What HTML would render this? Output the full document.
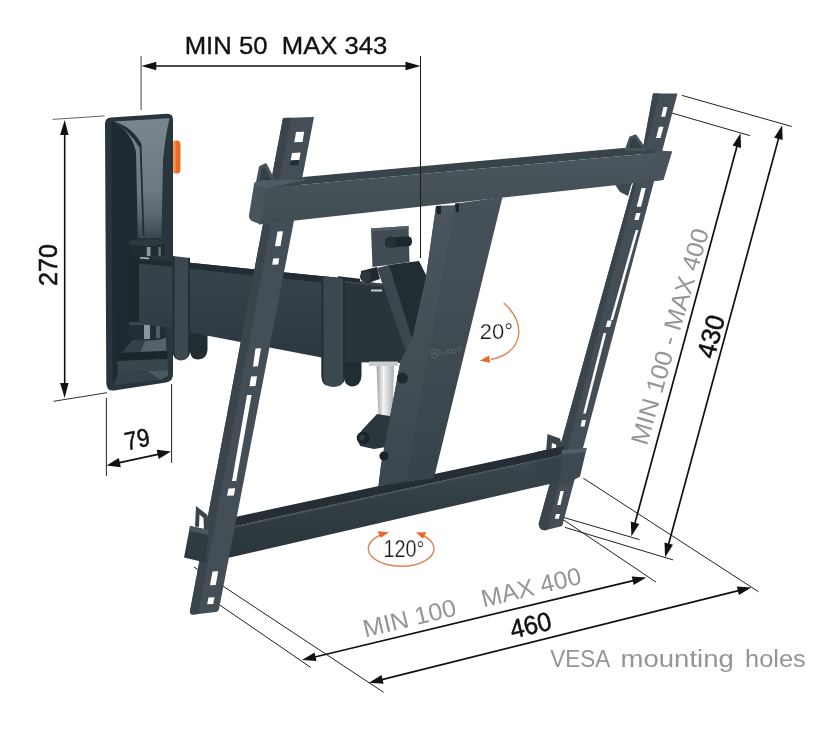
<!DOCTYPE html>
<html><head><meta charset="utf-8">
<style>
html,body{margin:0;padding:0;background:#fff;}
body{width:822px;height:730px;overflow:hidden;font-family:"Liberation Sans",sans-serif;}
svg{display:block;will-change:transform;}
text{font-family:"Liberation Sans",sans-serif;}
</style></head><body>
<svg width="822" height="730" viewBox="0 0 822 730">
<defs>
<linearGradient id="silver" x1="0" y1="0" x2="1" y2="0">
<stop offset="0" stop-color="#9da1a4"/><stop offset="0.4" stop-color="#f4f5f5"/><stop offset="1" stop-color="#a9adb0"/>
</linearGradient>
<linearGradient id="armg" x1="0" y1="0" x2="0" y2="1">
<stop offset="0" stop-color="#38444c"/><stop offset="0.5" stop-color="#333f47"/><stop offset="1" stop-color="#2b363d"/>
</linearGradient>
<linearGradient id="wallgloss" x1="0" y1="0" x2="0" y2="1">
<stop offset="0" stop-color="#7a868f"/><stop offset="0.6" stop-color="#6d7982"/><stop offset="0.8" stop-color="#5c6871"/><stop offset="1" stop-color="#3a464d"/>
</linearGradient>
<linearGradient id="barg1" x1="0" y1="0" x2="0" y2="1">
<stop offset="0" stop-color="#4b565e"/><stop offset="1" stop-color="#404b52"/>
</linearGradient>
<linearGradient id="barg2" x1="0" y1="0" x2="0" y2="1">
<stop offset="0" stop-color="#3d4950"/><stop offset="0.4" stop-color="#333f45"/><stop offset="1" stop-color="#2a353b"/>
</linearGradient>
<linearGradient id="plateg" x1="0" y1="0" x2="0" y2="1">
<stop offset="0" stop-color="#475159"/><stop offset="1" stop-color="#37434a"/>
</linearGradient>
<linearGradient id="plates" x1="0" y1="0" x2="0" y2="1">
<stop offset="0" stop-color="#4b555d"/><stop offset="1" stop-color="#3b474e"/>
</linearGradient>
</defs>
<rect width="822" height="730" fill="#fff"/>
<g id="ext" stroke="#222" stroke-width="1" fill="none">
<line x1="141.1" y1="56" x2="141.1" y2="110" stroke="#444"/>
<line x1="52.8" y1="119.4" x2="104.5" y2="115.9" stroke="#666"/>
<line x1="53.6" y1="401.3" x2="107" y2="392.7" stroke="#333"/>
<line x1="106.4" y1="398" x2="106.4" y2="476"/>
<line x1="171.6" y1="384" x2="171.6" y2="463"/>
<line x1="194" y1="567" x2="383.6" y2="692.3"/>
<line x1="219" y1="604.5" x2="310.7" y2="667.4"/>
<line x1="557" y1="515.5" x2="656" y2="582.1"/>
<line x1="583.3" y1="478.2" x2="758.6" y2="591.8"/>
<line x1="557" y1="515.5" x2="639.5" y2="539.6"/>
<line x1="565" y1="527.4" x2="673" y2="559.9"/>
<line x1="682" y1="95.4" x2="791.8" y2="126.5"/>
<line x1="670" y1="112.5" x2="749.9" y2="135.6"/>
</g>

<g id="wall">
<path d="M111,117.6 L167,113.8 Q173,113.5 173,120 L173,374 Q173,381.5 166,382.5 L114,390.5 Q106.5,391.5 106.3,383 L105,124 Q105,118 111,117.6 Z" fill="#28353c"/>
<path d="M111.5,124 Q111.5,121.5 114,121.6 Q134,128 137,150 L137.8,238 L143,238 L143,340 L118,378 L112.5,383 Z" fill="#1d2a31"/>
<path d="M114,121.6 L169.5,118.2 Q165.5,135 163,160 L161.4,238 L137.8,238 L136,152 Q132,133 114,121.6 Z" fill="url(#wallgloss)"/>
<path d="M114,121.6 Q132,127 141.5,144 L139.5,147.5 Q129,131 114,121.6 Z" fill="#222f36"/>
<path d="M139.6,144 L141.4,144 L144.4,236 L142.8,236 Z" fill="#1f2c33"/>
<!-- lower gloss -->
<path d="M133,340 L166,338 L166.5,352 L122,353 Z" fill="#56626a"/>
<path d="M133,340 L146,339.3 L140,352.6 L122,353 Z" fill="#34414a"/>
<path d="M117,353 L166.5,350.8 L167.5,359 L117.5,361 Z" fill="#1b262c"/>
<path d="M117.5,361 L167.5,359 L167.8,370 L118,372.8 Z" fill="#3a464d"/>
<path d="M118,372.8 L167.8,370 L168.2,375.5 L163,379.5 L114.5,385 Z" fill="#36424a"/>
<path d="M148,371.2 L167.8,370 L168.2,375.5 L160,379.8 Z" fill="#4c5860"/>
<!-- orange -->
<path d="M173,141 L177,140.5 Q180.5,140.5 180.5,145 L180.5,169 Q180.5,173.5 177,173.5 L173,173 Z" fill="#ee6a26"/>
<path d="M173,141 L175.5,140.7 L175.5,173.3 L173,173 Z" fill="#f59558"/>
</g>

<g id="hinge">
<rect x="128.5" y="250" width="13" height="80" fill="#1c272e"/>
<path d="M128.5,243 Q128.5,238.5 146,238.5 Q164.5,238.5 164.5,243 L164.5,256 L128.5,256 Z" fill="#212b32"/>
<ellipse cx="146.5" cy="242.5" rx="18" ry="3.6" fill="#2d383f"/>
<rect x="146.8" y="247" width="3.7" height="9" fill="#8c979e"/>
<rect x="158.4" y="247" width="2.4" height="9" fill="#66727a"/>
<path d="M129,322 L165,322 L165,336 Q165,340.5 147,340.5 Q129,340.5 129,336 Z" fill="#222e35"/>
<rect x="144" y="323" width="6" height="16" fill="#8a959c"/>
<rect x="156" y="323" width="4" height="15" fill="#525e66"/>
<path d="M129,322 L165,322 L165,325 L129,325 Z" fill="#3a464d"/>
</g>

<g id="arm">
<!-- hooks behind -->
<path d="M190,330 L207.5,333 L207.5,350 Q207,359 198,359.5 Q191,359.5 190,352 Z" fill="#222d33"/>
<path d="M344,358 L361.5,360 L361.5,376 Q361,386 352,386.5 Q345,386 344,378 Z" fill="#222d33"/>
<!-- arm body -->
<path d="M139,257.5 L345,278.5 L345,362 L139,322.5 Z" fill="url(#armg)"/>
<path d="M139,257.5 L345,278.5 L345,285 L139,263.5 Z" fill="#222c33"/>
<path d="M140,256.9 L149,257.8 L149,259.3 L140,258.4 Z" fill="#b5bcc0"/>
<!-- end block -->
<path d="M343,279.5 L386,284 L409,348 L404,363 L343,362 Z" fill="#29343b"/>
<path d="M345,280 L381,283.5 L382,286.5 L345,283 Z" fill="#3a454c"/>
<path d="M338,276.3 L360,278.8 L360,282.5 L338,280 Z" fill="#1f292f"/>
<!-- strap 1 -->
<path d="M172.5,256 L190,258 L190,350 Q189.5,360.5 181,360.5 Q173,360 172.5,350 Z" fill="#3c4850"/>
<path d="M172.5,256 L174.5,256.2 L174.5,352 Q174.7,357 178,359.6 Q172.8,358 172.5,350 Z" fill="#222d34"/>
<path d="M188,257.8 L190,258 L190,350 Q189.8,355 188,357 Z" fill="#222d34"/>
<!-- strap 2 -->
<path d="M321.5,276 L345,278.5 L345,376 Q344.5,387 333,387 Q322,386.5 321.5,376 Z" fill="#3c4850"/>
<path d="M321.5,276 L323.5,276.2 L323.5,378 Q323.8,383 327,386 Q321.8,384 321.5,376 Z" fill="#222d34"/>
<path d="M343,278.3 L345,278.5 L345,376 Q344.8,381 343,383 Z" fill="#222d34"/>
</g>

<g id="tilt">
<!-- silver rod -->
<path d="M376.5,364 L394,364 L392.5,419.5 L378.5,419.5 Z" fill="url(#silver)"/>
<path d="M369,361.5 L398,361.5 L398,366 L369,366 Z" fill="#c9cdd0"/>
<!-- lower lever -->
<path d="M377,414 L396,417 L392,446 L374,449 L360,446 L357,437 L362,430 Z" fill="#2b363d"/>
<circle cx="363" cy="438" r="6.3" fill="#19232a"/>
<circle cx="362" cy="437.5" r="3" fill="#2f3a41"/>
<!-- back plate w knob -->
<path d="M371,228.5 L408.5,226 L409.5,262 L372.5,267 Z" fill="#404b53"/>
<path d="M371,228.5 L408.5,226 L408.6,229 L371.2,231.5 Z" fill="#525e66"/>
<path d="M386,238 L408,236.5 Q412,236.5 412,241.5 Q412,246 408,246.3 L390,247.5 Q385,247.5 385,242.5 Z" fill="#1c262c"/>
<circle cx="391" cy="242" r="5.5" fill="#263138"/>
<!-- pivot bolt -->
<path d="M361,271 Q360,281 368,283 L380,279 L377,267 Z" fill="#1f2930"/>
<circle cx="365.5" cy="276.5" r="5.5" fill="#2c373e"/>
<rect x="371" y="289.5" width="11" height="2" fill="#c8cdd0"/>
<!-- V interior -->
<path d="M388,265 L419,261 L427,277 L412,342 Z" fill="#222c33"/>
<!-- left arm of V -->
<path d="M377,268 L389,265 L412.5,340 L405.5,351 Z" fill="#3b464e"/>
</g>

<g id="bottombar">
<path d="M228,518.5 L562,446.5 L562,454.7 L226,528.2 Z" fill="#242e34"/>
<path d="M226,528.2 L562,454.7 L562,481 L220,559.8 Z" fill="url(#barg2)"/>
<path d="M226,528.2 L562,454.7 L562,456.2 L226,529.8 Z" fill="#46525a"/>
</g>

<g id="center">
<path d="M436,206 L455,205.5 L455,203.7 L502.5,197 L434,478 L378.5,486 L381,465 L400.5,361 L412,340 L426,277 Z" fill="url(#plateg)"/>
<path d="M436,206 L455,205.5 L406,480 L378.5,486 L381,465 L400.5,361 L412,340 L426,277 Z" fill="url(#plates)"/>
<circle cx="384" cy="456" r="4.6" fill="#19232a"/>
<circle cx="402.5" cy="378" r="5.5" fill="#1f2930"/>
<path d="M455,203.7 L459,203.2 L459,212 L456,212.3 Z" fill="#1a242a"/>
<path d="M436,206 L441,205.8 L441,214 L437,214.2 Z" fill="#1a242a"/>
<g transform="translate(431,357) rotate(-13)" stroke="#5a666e" stroke-width="0.9" fill="none"><circle cx="3" cy="-5" r="2.6"/><circle cx="7.5" cy="-3" r="2.6"/><circle cx="3.5" cy="-0.5" r="2.6"/><path d="M12,-2 l3,3 l2.5,-4 m2,0 a2,2 0 1 0 0.1,0 m4,0.5 a2,2 0 1 0 0.1,0 m4,-0.5 l0,4 m3,-6 l0,6" /></g>
</g>

<g id="rails">
<!-- LEFT RAIL -->
<path d="M283,118 L314,117 L219,609 Q218.6,611.5 216,612 L194,614.5 Q189.5,614.8 190,611 Z" fill="#434e56"/>
<path d="M283,118 L291,117.7 L198,614 L194,614.5 Q189.5,614.8 190,611 Z" fill="#39444b"/>
<g fill="#fff">
<path d="M296,132 L304.2,131.7 L302.5,142 L294.3,142.3 Z"/>
<path d="M292,153 L300.6,152.6 L299.3,160 L290.7,160.4 Z"/>
<path d="M277.5,231.5 L283,231.3 L280.5,246 L275,246.2 Z"/>
<path d="M273.2,258.4 L279.2,258.2 L278.2,264.6 L272.2,264.8 Z"/>
<path d="M255.5,348.5 L261,348.3 L258,366.3 L253,366.5 Z"/>
<path d="M251,376.5 L257,376.3 L255.5,386 L249.5,386.2 Z"/>
<path d="M247,395 L251.6,395 L236.2,481 L232,481 Z"/>
<path d="M228.5,488.5 L235.2,488.3 L233.8,495.5 L227,495.7 Z"/>
<path d="M212.5,571.5 L218.2,571.2 L215.8,585 L210,585.3 Z"/>
<path d="M208.5,597.5 L214.5,597.2 L213.2,604 L207.2,604.3 Z"/>
</g>
<path d="M290.7,160.4 L299.3,160 L298.5,165 L289.8,165.4 Z" fill="#222c32"/>
<!-- left bottom clamp -->
<path d="M196,506 L207.5,515 L209,530 L204,531 L203.5,518 L199.5,514.5 L199,527 L195,526.5 Z" fill="#39444b"/>
<path d="M190,526 L209,530 L205,562.5 L184,557.5 Z" fill="#2f3a41"/>
<path d="M190,526 L209,530 L208.3,535 L189.2,531 Z" fill="#4a555d"/>
<!-- RIGHT RAIL -->
<path d="M653,93.5 L677.5,93.5 L562.2,526 L545.5,530.2 Q541,530.5 539.5,527 L538.6,524 L600.7,300 L643,148 Z" fill="#434e56"/>
<path d="M653,93.5 L659.5,93.5 L547,529.8 L545.5,530.2 Q541,530.5 539.5,527 L538.6,524 L600.7,300 L643,148 Z" fill="#39444b"/>
<g fill="#fff">
<path d="M663.5,107 L667.5,107 L665.2,116.7 L661.2,116.7 Z"/>
<path d="M659,126.7 L663.5,126.7 L660.5,138 L656,138 Z"/>
<path d="M641.5,188 L645.8,188 L641,206.7 L636.7,206.7 Z"/>
<path d="M636.2,213 L640.5,213 L638.7,220 L634.4,220 Z"/>
<path d="M635.7,230 L638.3,230 L613,320 L610.4,320 Z"/>
<path d="M607.5,320.5 L611.8,320.5 L610,327 L605.7,327 Z"/>
<path d="M603.6,333 L606.2,333 L585.8,413.5 L583.2,413.5 Z"/>
<path d="M582,420 L586,420 L584.5,426.5 L580.5,426.5 Z"/>
<path d="M560.5,491 L563.8,491 L560.5,505 L557.2,505 Z"/>
<path d="M556,514 L560,514 L558.8,518.8 L554.8,518.8 Z"/>
</g>
<path d="M615,184.5 L632,183 L628,196 L620,192 Z" fill="#3d4850"/>
<path d="M547.5,434 L560,438.5 L563,449 L556.5,450.5 L556,444.5 L552,443 L551,456 L545.5,457.5 Z" fill="#3a454c"/>
<!-- bar end passes in front of right rail side -->
<path d="M535,452.3 L563.5,446.2 L563.5,454.4 L535,460.6 Z" fill="#242e34"/>
<path d="M535,460.6 L563.5,454.4 L563.5,480.6 L535,487.2 Z" fill="#36424a"/>
<path d="M535,460.6 L563.5,454.4 L563.5,455.9 L535,462.1 Z" fill="#46525a"/>
<!-- right bottom clamp -->
<path d="M561.7,450 L586.7,448 L580,476.7 L560,486.7 Z" fill="#3d4850"/>
<path d="M561.7,450 L586.7,448 L585.5,452.5 L561.5,454.5 Z" fill="#525d65"/>
</g>

<g id="topbar">
<path d="M303,177 L623,148 L672,151.5 L266,188 Z" fill="#38434a"/>
<path d="M265,188 L672,151.5 L663,180 L259,224.5 Z" fill="url(#barg1)"/>
<!-- left hook (thin bracket) -->
<path d="M257.5,182.5 L260.5,167.5 L265.5,165 L274,181.5 Z" fill="#343f46" stroke="#465159" stroke-width="3.2" stroke-linejoin="round"/>
<circle cx="267.5" cy="181.5" r="2.4" fill="#19232a"/>
<!-- left cap: top + front -->
<path d="M254.3,182.5 L262,180 L302,179.5 L303,177 L306,180 L266,188.5 Z" fill="#4f5a62"/>
<path d="M254.3,182.5 L266,188 L260.5,224.5 L252,221 Q248.5,219 249,215 Z" fill="#49545c"/>
<!-- right hook -->
<path d="M626.5,149.5 L630.5,138 L635.5,136 L645,149.5 Z" fill="#343f46" stroke="#465159" stroke-width="3" stroke-linejoin="round"/>
<!-- right cap -->
<path d="M655,150.3 L672,151.5 L663.5,180 L654,181 Z" fill="#49545c"/>
</g>

<g id="arrows" stroke="#111" stroke-width="1.6" fill="#111">
<line x1="153.3" y1="66.0" x2="408.5" y2="66.0" stroke-width="1.6"/><path d="M141.3,66.0 L156.3,70.2 L156.3,61.8 Z" stroke="none"/><path d="M420.5,66.0 L405.5,70.2 L405.5,61.8 Z" stroke="none"/>
<line x1="64.7" y1="132.0" x2="64.7" y2="386.0" stroke-width="1.6"/><path d="M64.7,120.0 L60.1,135.0 L68.5,135.0 Z" stroke="none"/><path d="M64.7,398.0 L60.1,383.0 L68.5,383.0 Z" stroke="none"/>
<line x1="117.2" y1="463.2" x2="160.3" y2="453.8" stroke-width="1.7"/><path d="M106.6,465.5 L120.8,467.2 L118.8,458.0 Z" stroke="none"/><path d="M170.9,451.5 L158.7,459.0 L156.7,449.8 Z" stroke="none"/>
<line x1="312.8" y1="657.5" x2="635.4" y2="580.2" stroke-width="1.7"/><path d="M301.9,660.1 L316.5,661.1 L314.5,652.6 Z" stroke="none"/><path d="M646.3,577.6 L633.7,585.1 L631.7,576.6 Z" stroke="none"/>
<line x1="379.9" y1="680.1" x2="740.5" y2="590.1" stroke-width="1.7"/><path d="M369.0,682.8 L383.6,683.7 L381.5,675.1 Z" stroke="none"/><path d="M751.4,587.4 L738.9,595.1 L736.8,586.5 Z" stroke="none"/>
<line x1="737.6" y1="144.0" x2="634.3" y2="525.4" stroke-width="1.7"/><path d="M740.5,133.2 L732.6,145.6 L741.1,147.9 Z" stroke="none"/><path d="M631.4,536.2 L630.8,521.6 L639.3,523.9 Z" stroke="none"/>
<line x1="779.2" y1="136.1" x2="668.0" y2="546.4" stroke-width="1.7"/><path d="M782.1,125.3 L774.2,137.7 L782.7,140.0 Z" stroke="none"/><path d="M665.1,557.2 L664.5,542.5 L673.0,544.8 Z" stroke="none"/>
<line x1="420.5" y1="56" x2="420.5" y2="258" stroke="#1a1a1a" stroke-width="1"/>
</g>

<g id="labels">
<g fill="#111" stroke="#111" stroke-width="0.35">
<text x="184.7" y="54" font-size="24.7" textLength="202.7" lengthAdjust="spacingAndGlyphs" xml:space="preserve">MIN 50  MAX 343</text>
<text transform="translate(57,265) rotate(-90)" text-anchor="middle" font-size="26.3" textLength="42" lengthAdjust="spacingAndGlyphs" stroke-width="0.6">270</text>
<text transform="translate(139,447.8) rotate(-12)" text-anchor="middle" font-size="25.5" textLength="25" lengthAdjust="spacingAndGlyphs" stroke-width="0.5">79</text>
<text transform="translate(532.75,634) rotate(-13.5)" text-anchor="middle" font-size="26.3" textLength="41.6" lengthAdjust="spacingAndGlyphs" stroke-width="0.5">460</text>
<text transform="translate(719.7,338.8) rotate(-74.8)" text-anchor="middle" font-size="26.3" textLength="43.5" lengthAdjust="spacingAndGlyphs" stroke-width="0.5">430</text>
</g>
<g fill="#1c1c1c" stroke="#fff" stroke-width="0.25">
<text x="479.7" y="339.3" font-size="22.2" textLength="33.3" lengthAdjust="spacingAndGlyphs">20°</text>
<text x="383.5" y="557.2" font-size="23.7" textLength="41" lengthAdjust="spacingAndGlyphs">120°</text>
</g>
<g fill="#939597" stroke="none">
<text transform="translate(365.3,637.4) rotate(-13.46)" font-size="24.6" textLength="94.9" lengthAdjust="spacingAndGlyphs">MIN 100</text>
<text transform="translate(483.4,607.4) rotate(-13.46)" font-size="24.6" textLength="102" lengthAdjust="spacingAndGlyphs">MAX 400</text>
<text transform="translate(646.7,446.2) rotate(-73.8)" font-size="24.5" textLength="223.6" lengthAdjust="spacingAndGlyphs">MIN 100 - MAX 400</text>
<text x="550.3" y="666.8" font-size="24.2" textLength="60" lengthAdjust="spacingAndGlyphs">VESA</text>
<text x="620.6" y="666.8" font-size="24.2" textLength="113.2" lengthAdjust="spacingAndGlyphs">mounting</text>
<text x="745.1" y="666.8" font-size="24.2" textLength="60.7" lengthAdjust="spacingAndGlyphs">holes</text>
</g>
<g fill="none" stroke="#dc8654" stroke-width="1.4">
<path d="M503.8,303 Q519.5,317 518.8,333 Q517,354 491,359.5"/>
<path d="M382,534.5 A32.9,17.5 0 1 0 421.5,535" />
</g>
<g fill="#e8692a" stroke="none">
<path d="M479.7,360.7 L489,355.5 L490.2,362.8 Z"/>
<path d="M389,532.3 L377.5,531.2 L380.8,537.8 Z"/>
<path d="M415.9,532.5 L426.5,532.3 L423,538.8 Z"/>
</g>
</g>

</svg>
</body></html>
